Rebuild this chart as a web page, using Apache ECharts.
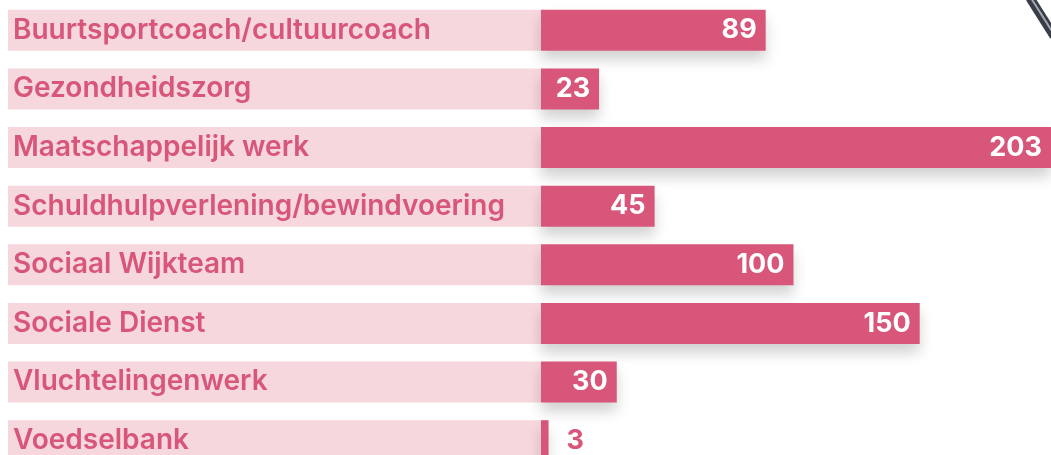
<!DOCTYPE html>
<html>
<head>
<meta charset="utf-8">
<script src="https://cdn.jsdelivr.net/npm/echarts@6/dist/echarts.min.js"></script>
<style>
  html, body { margin: 0; padding: 0; background: #fff; }
  #chart { width: 1051px; height: 455px; }
</style>
</head>
<body>
<div id="chart"></div>
<script>
var categories = ['Buurtsportcoach/cultuurcoach', 'Gezondheidszorg', 'Maatschappelijk werk',
  'Schuldhulpverlening/bewindvoering', 'Sociaal Wijkteam', 'Sociale Dienst',
  'Vluchtelingenwerk', 'Voedselbank'];
var values = [89, 23, 203, 45, 100, 150, 30, 3];

var pink = '#d75679';
var lightPink = '#f5d7dd';

var myChart = echarts.init(document.getElementById('chart'));

var seriesData = values.map(function (v) {
  if (v < 10) {
    // too small for an inside label
    return { value: v, label: { position: 'right', distance: 18, color: pink } };
  }
  return v;
});

myChart.setOption({
  animation: false,
  grid: {
    left: 541, width: 510, top: 1, height: 469,
    containLabel: false,
    outerBoundsMode: 'none'
  },
  xAxis: {
    type: 'value',
    min: 0,
    max: 202,
    show: false,
    splitLine: { show: false }
  },
  yAxis: {
    type: 'category',
    inverse: true,
    data: categories,
    axisLine: { show: false },
    axisTick: { show: false },
    axisLabel: {
      interval: 0,
      margin: 533,
      align: 'left',
      width: 528,
      height: 41,
      lineHeight: 41,
      padding: [0, 0, 0, 5],
      overflow: 'none',
      backgroundColor: lightPink,
      color: pink,
      fontFamily: 'Inter',
      fontWeight: 600,
      fontSize: 28
    }
  },
  // bit of the photo poking in at the top right
  graphic: [{
    type: 'line',
    shape: { x1: 1030, y1: -2, x2: 1054, y2: 36 },
    style: { stroke: '#3a3d45', lineWidth: 9 }
  }, {
    type: 'line',
    shape: { x1: 1031, y1: -2, x2: 1055, y2: 36 },
    style: { stroke: '#a3a8b2', lineWidth: 2 }
  }],
  series: [{
    type: 'bar',
    data: seriesData,
    barWidth: 41,
    itemStyle: {
      color: pink,
      shadowColor: 'rgba(0,0,0,0.18)',
      shadowBlur: 14,
      shadowOffsetY: 9
    },
    label: {
      show: true,
      position: 'insideRight',
      distance: 9,
      color: '#fff',
      fontFamily: 'Inter',
      fontWeight: 700,
      fontSize: 27
    }
  }]
});
</script>
</body>
</html>
